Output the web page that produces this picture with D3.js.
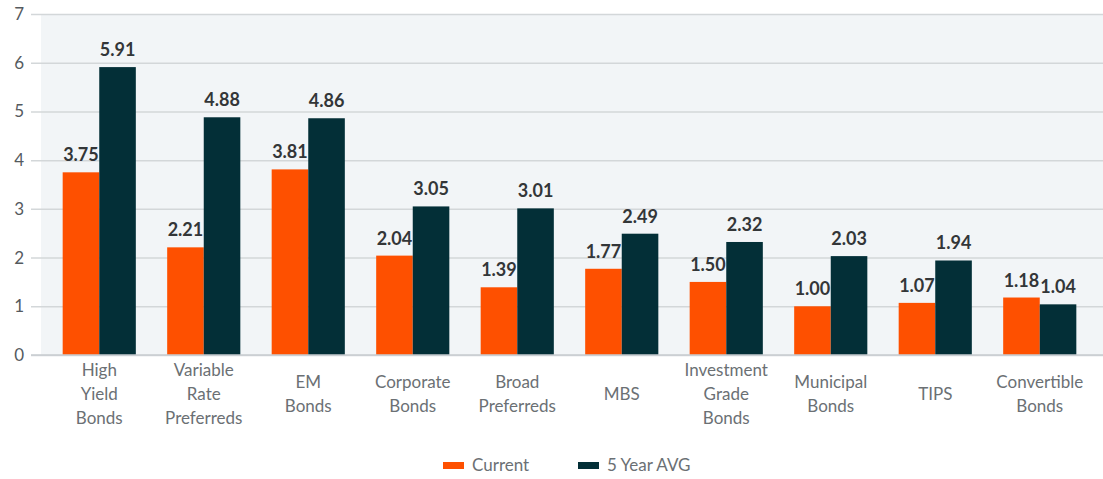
<!DOCTYPE html>
<html>
<head>
<meta charset="utf-8">
<script src="https://cdn.jsdelivr.net/npm/d3@7"></script>
<style>
  html, body { margin: 0; padding: 0; background: #ffffff; }
  svg { display: block; font-family: Lato, "Open Sans", sans-serif; }
</style>
</head>
<body>
<svg id="chart" width="1103" height="479"></svg>
<script>
const categories = [
  ["High", "Yield", "Bonds"],
  ["Variable", "Rate", "Preferreds"],
  ["EM", "Bonds"],
  ["Corporate", "Bonds"],
  ["Broad", "Preferreds"],
  ["MBS"],
  ["Investment", "Grade", "Bonds"],
  ["Municipal", "Bonds"],
  ["TIPS"],
  ["Convertible", "Bonds"]
];
const seriesNames = ["Current", "5 Year AVG"];
const current = [3.75, 2.21, 3.81, 2.04, 1.39, 1.77, 1.50, 1.00, 1.07, 1.18];
const fiveYearAvg = [5.91, 4.88, 4.86, 3.05, 3.01, 2.49, 2.32, 2.03, 1.94, 1.04];
const yTicks = [0, 1, 2, 3, 4, 5, 6, 7];
const colors = ["#fe5000", "#032f37"];

const svg = d3.select("#chart");
const keys = categories.map((c, i) => "c" + i);
const series = [current, fiveYearAvg];

const y = d3.scaleLinear().domain([0, 7]).range([355, 14]);
const x0 = d3.scaleBand().domain(keys).range([47, 1092]).paddingInner(0.3).paddingOuter(0.15);
const x1 = d3.scaleBand().domain(seriesNames).range([0, x0.bandwidth()]);

// plot background
svg.append("rect")
  .attr("x", 41).attr("y", y(7))
  .attr("width", 1103 - 41).attr("height", y(0) - y(7))
  .attr("fill", "#f2f5f7");

// gridlines + y tick labels
const yAxis = d3.axisLeft(y).tickValues(yTicks).tickSize(-(1103 - 31)).tickFormat(d3.format("d"));
const gy = svg.append("g").attr("transform", "translate(31,0)").call(yAxis);
gy.select(".domain").remove();
gy.selectAll(".tick line").attr("stroke", "#d3d7d9").attr("stroke-width", 1.5);
gy.selectAll(".tick text")
  .attr("x", -7).attr("fill", "#555a5e")
  .style("font-size", "17px").style("font-family", "Lato, sans-serif");

// bars
const groups = svg.append("g").selectAll("g").data(keys).join("g")
  .attr("transform", d => `translate(${x0(d)},0)`);

groups.selectAll("rect")
  .data((d, i) => seriesNames.map((s, j) => ({ s, j, v: series[j][i] })))
  .join("rect")
  .attr("x", d => x1(d.s))
  .attr("y", d => y(d.v))
  .attr("width", x1.bandwidth())
  .attr("height", d => y(0) - y(d.v))
  .attr("fill", d => colors[d.j]);

groups.selectAll("text.val")
  .data((d, i) => seriesNames.map((s, j) => ({ s, j, v: series[j][i] })))
  .join("text")
  .attr("class", "val")
  .attr("x", d => x1(d.s) + x1.bandwidth() / 2)
  .attr("y", d => y(d.v) - 11)
  .attr("text-anchor", "middle")
  .attr("fill", "#333638")
  .style("font-size", "18px").style("font-weight", "bold")
  .text(d => d3.format(".2f")(d.v));

// baseline
svg.append("line")
  .attr("x1", 31).attr("x2", 1103)
  .attr("y1", y(0)).attr("y2", y(0))
  .attr("stroke", "#c9cdd0").attr("stroke-width", 1.5);

// category labels
const xAxis = d3.axisBottom(x0).tickSize(0).tickFormat("");
const gx = svg.append("g").attr("transform", `translate(0,${y(0)})`).call(xAxis);
gx.select(".domain").remove();
gx.selectAll(".tick").each(function(d, i) {
  const lines = categories[i];
  const t = d3.select(this).append("text")
    .attr("text-anchor", "middle")
    .attr("fill", "#6b7074")
    .style("font-size", "17px").style("font-family", "Lato, sans-serif");
  const lh = 24;
  const startY = 39 - (lines.length - 1) * lh / 2 + 6;
  lines.forEach((ln, k) => {
    t.append("tspan").attr("x", 0).attr("y", startY + k * lh).text(ln);
  });
});

// legend
const legend = svg.append("g");
const legendItems = [
  { name: seriesNames[0], color: colors[0], x: 443 },
  { name: seriesNames[1], color: colors[1], x: 578 }
];
legendItems.forEach(it => {
  legend.append("rect").attr("x", it.x).attr("y", 462).attr("width", 21).attr("height", 7).attr("fill", it.color);
  legend.append("text").attr("x", it.x + 29).attr("y", 471)
    .attr("fill", "#6b7074")
    .style("font-size", "17px")
    .text(it.name);
});
</script>
</body>
</html>
